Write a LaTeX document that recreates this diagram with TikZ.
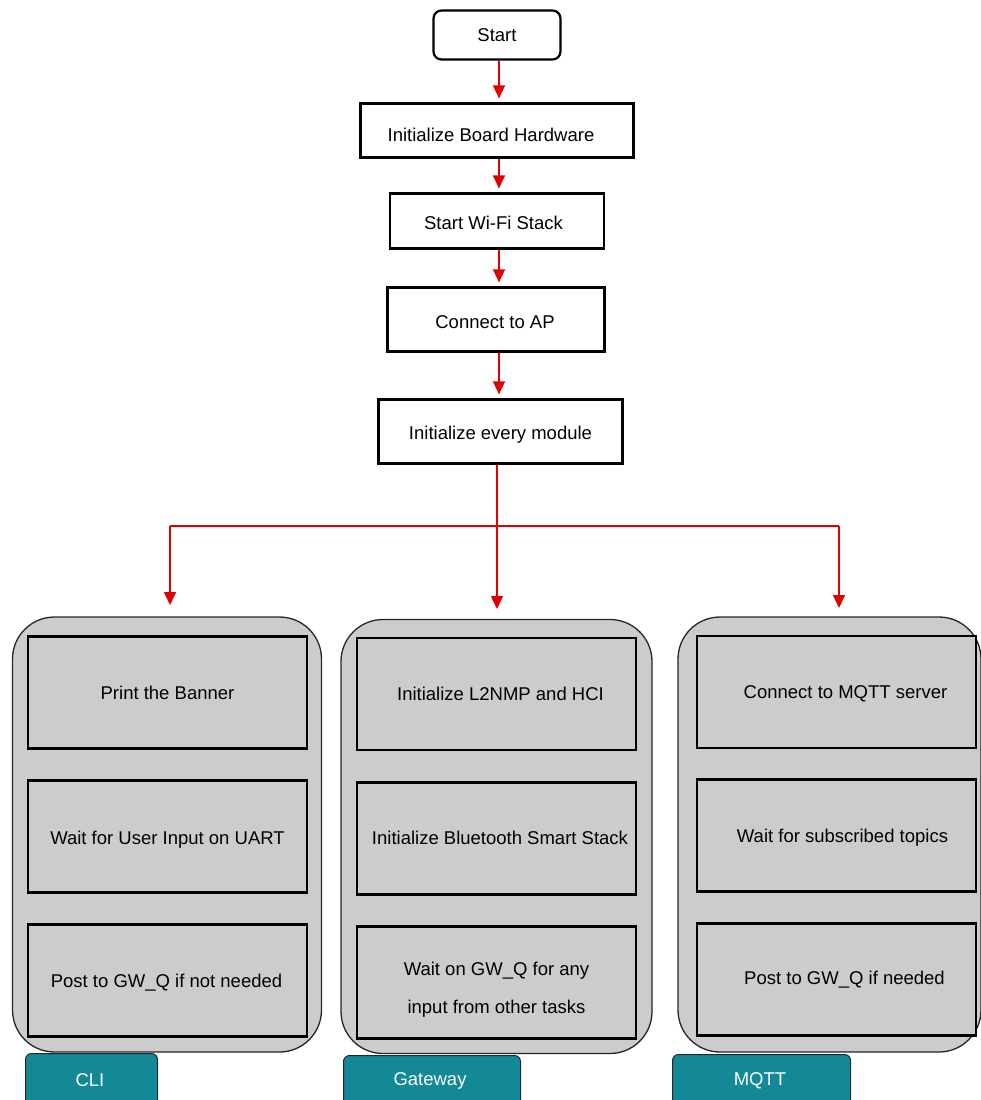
\documentclass[tikz,border=0pt]{standalone}
\usepackage{fontspec}
\setmainfont{Liberation Sans}
\usetikzlibrary{arrows.meta}
\definecolor{arrowred}{HTML}{E00000}
\definecolor{panelgray}{HTML}{CCCCCC}
\definecolor{tabteal}{HTML}{138896}
\newcommand{\lowertext}[2]{\raisebox{-#1}[\height][\depth]{#2}}
\begin{document}
\begin{tikzpicture}[x=1pt,y=-1pt,
  every node/.style={font=\fontsize{18.5}{22}\selectfont, inner sep=0pt},
  startbox/.style={draw=black, line width=2.2pt, fill=white, rounded corners=8pt},
  topbox/.style={draw=black, line width=2.2pt, fill=white},
  flowarrow/.style={draw=arrowred, line width=1.4pt, -{Triangle[width=12pt,length=13pt]}, shorten >=4pt},
  branchline/.style={draw=arrowred, line width=1.2pt},
  lane/.style={draw=black!85, line width=1.3pt, fill=panelgray, rounded corners=42pt},
  stepbox/.style={draw=black, line width=2.4pt, fill=panelgray, minimum width=279pt, minimum height=112pt, align=center},
  tabbox/.style={draw=black!85, line width=1pt, fill=tabteal, rounded corners=6pt, text=white}
]
\useasboundingbox (0,0) rectangle (981,1100);
\clip (0,0) rectangle (981,1100);

% top chain
\node[startbox, minimum width=127pt, minimum height=49pt] (start) at (497,35) {Start};
\node[topbox, minimum width=273pt, minimum height=54pt] (hw) at (497,130.5) {\lowertext{4pt}{Initialize Board Hardware}\hspace*{12pt}};
\node[topbox, minimum width=214pt, minimum height=55pt] (wifi) at (497,221) {\lowertext{2pt}{Start Wi-Fi Stack}\hspace*{7pt}};
\node[topbox, minimum width=217pt, minimum height=64pt] (ap) at (496,319.5) {\lowertext{3pt}{Connect to AP}\hspace*{2pt}};
\node[topbox, minimum width=244pt, minimum height=64pt] (mods) at (500.5,431.5) {\lowertext{3pt}{Initialize every module}};

\draw[flowarrow] (start.south -| 499,0) -- (hw.north -| 499,0);
\draw[flowarrow] (hw.south -| 499,0) -- (wifi.north -| 499,0);
\draw[flowarrow] (wifi.south -| 499,0) -- (ap.north -| 499,0);
\draw[flowarrow] (ap.south -| 499,0) -- (mods.north -| 499,0);

% lanes
\node[lane, minimum width=309pt, minimum height=435pt] (laneA) at (167,834.5) {};
\node[lane, minimum width=311pt, minimum height=434pt] (laneB) at (496.5,836.5) {};
\node[lane, minimum width=303pt, minimum height=435pt] (laneC) at (829.5,834.5) {};

% branch
\coordinate (split) at (497,526);
\draw[branchline] (mods.south -| 497,0) -- (split);
\draw[branchline] (170,526) -- (839,526);
\draw[flowarrow, shorten >=0pt] (170,526) -- (170,605);
\draw[flowarrow, shorten >=0pt] (split) -- (497,609);
\draw[flowarrow, shorten >=0pt] (839,526) -- (839,608);

% lane A steps
\node[stepbox] (a1) at (167.5,692.5) {Print the Banner};
\node[stepbox] (a2) at (167.5,836.5) {\lowertext{3pt}{Wait for User Input on UART}};
\node[stepbox] (a3) at (167.5,980.5) {\lowertext{2pt}{Post to GW\_Q if not needed}\hspace*{2pt}};

% lane B steps
\node[stepbox] (b1) at (496.5,694) {\hspace*{8pt}Initialize L2NMP and HCI};
\node[stepbox] (b2) at (496.5,838.5) {\hspace*{7pt}\lowertext{-1pt}{Initialize Bluetooth Smart Stack}};
\node[stepbox, label={[align=center, yshift=-7pt]center:Wait on GW\_Q for any\\[16pt]input from other tasks}] (b3) at (496.5,982.5) {};

% lane C steps
\node[stepbox] (c1) at (836.5,692) {\hspace*{18pt}\lowertext{2pt}{Connect to MQTT server}};
\node[stepbox] (c2) at (836.5,835.5) {\hspace*{12pt}\lowertext{2pt}{Wait for subscribed topics}};
\node[stepbox] (c3) at (836.5,979.5) {\hspace*{16pt}Post to GW\_Q if needed};

% tabs
\node[tabbox, minimum width=132pt, minimum height=70pt, anchor=north west] (tabA) at (25,1053) {};
\node at (90,1080) [text=white] {CLI};
\node[tabbox, minimum width=177pt, minimum height=70pt, anchor=north west] (tabB) at (343,1055) {};
\node at (430,1081) [text=white] {Gateway};
\node[tabbox, minimum width=178pt, minimum height=70pt, anchor=north west] (tabC) at (672,1054) {};
\node at (760,1081) [text=white] {MQTT};
\end{tikzpicture}
\end{document}
